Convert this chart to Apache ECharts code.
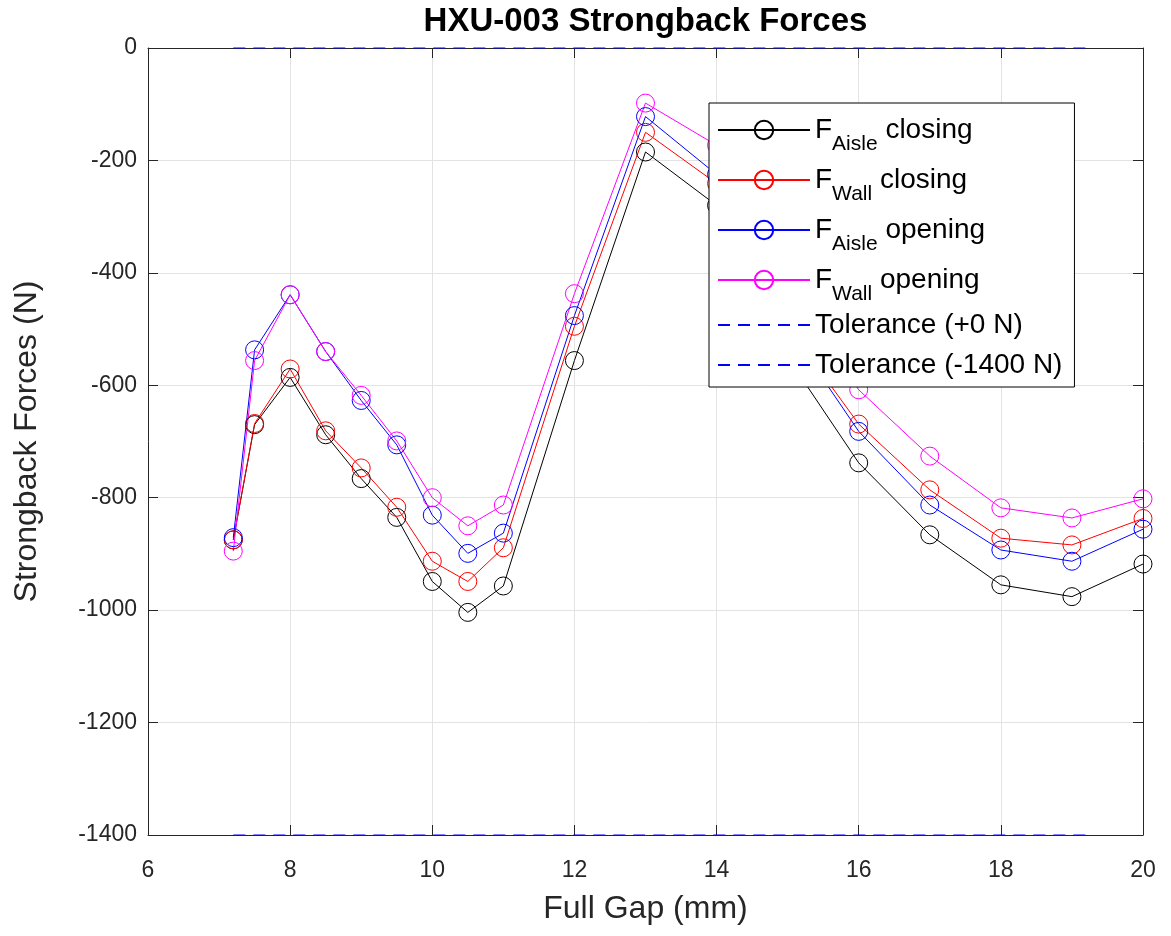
<!DOCTYPE html>
<html><head><meta charset="utf-8">
<script src="https://cdn.jsdelivr.net/npm/echarts@6/dist/echarts.min.js"></script>
<style>html,body{margin:0;padding:0;background:#fff}#c{width:1171px;height:936px}</style>
</head><body><div id="c"></div>
<script>
// ---- data ----
const gap = [7.2, 7.5, 8, 8.5, 9, 9.5, 10, 10.5, 11, 12, 13, 14, 15, 16, 17, 18, 19, 20];
const aisleClosing = [-875, -670, -586, -688, -766, -835, -949, -1004, -957, -556, -185, -280, -550, -738, -866, -955, -976, -918];
const wallClosing  = [-875, -668, -571, -681, -747, -817, -913, -949, -889, -495, -150, -241, -495, -669, -786, -872, -884, -837];
const aisleOpening = [-871, -537, -439, -540, -627, -706, -831, -899, -863, -476, -122, -225, -496, -682, -813, -893, -913, -856];
const wallOpening  = [-895, -556, -439, -540, -618, -699, -800, -850, -813, -437, -98, -173, -430, -608, -726, -818, -836, -802];
const toleranceGap = [7.2, 19.2];
const toleranceHigh = [0, 0];
const toleranceLow = [-1400, -1400];
const xTickValues = [6, 8, 10, 12, 14, 16, 18, 20];
const yTickValues = [0, -200, -400, -600, -800, -1000, -1200, -1400];

const FONT = 'Liberation Sans, Arial, Helvetica, sans-serif';
const AX = '#262626';
const pairs = (xs, ys) => xs.map((x, i) => [x, ys[i]]);

const xMin = Math.min(...xTickValues), xMax = Math.max(...xTickValues), xStep = xTickValues[1] - xTickValues[0];
const yMin = Math.min(...yTickValues), yMax = Math.max(...yTickValues), yStep = Math.abs(yTickValues[1] - yTickValues[0]);

function markerSeries(name, ys, color) {
  return {
    name, type: 'line', data: pairs(gap, ys), xAxisIndex: 0, yAxisIndex: 0,
    symbol: 'circle', symbolSize: 18,
    lineStyle: { color, width: 1 },
    itemStyle: { color: 'rgba(255,255,255,0)', borderColor: color, borderWidth: 1 },
    emphasis: { disabled: true }, animation: false
  };
}
function tolSeries(name, ys) {
  return {
    name, type: 'line', data: pairs(toleranceGap, ys), xAxisIndex: 0, yAxisIndex: 0,
    symbol: 'circle', showSymbol: false, clip: false,
    lineStyle: { color: '#0000ff', width: 1.2, type: [12, 8] },
    itemStyle: { color: 'rgba(255,255,255,0)', borderColor: 'rgba(255,255,255,0)', borderWidth: 0 },
    emphasis: { disabled: true }, animation: false
  };
}

const labels = {
  'aisleClosing': '{m|F}{s|Aisle}{m| closing}',
  'wallClosing': '{m|F}{s|Wall}{m| closing}',
  'aisleOpening': '{m|F}{s|Aisle}{m| opening}',
  'wallOpening': '{m|F}{s|Wall}{m| opening}',
  'tolHigh': '{t|Tolerance (+0 N)}',
  'tolLow': '{t|Tolerance (-1400 N)}'
};

const chart = echarts.init(document.getElementById('c'), null, { renderer: 'canvas' });
const axisCommon = {
  axisLine: { show: true, onZero: false, lineStyle: { color: AX, width: 1 } },
  axisTick: { show: true, inside: true, length: 10, lineStyle: { color: AX, width: 1 } },
};
const CLEAR = 'rgba(255,255,255,0)';
chart.setOption({
  animation: false,
  backgroundColor: '#fff',
  title: {
    text: 'HXU-003 Strongback Forces',
    left: 645.5, top: 5, padding: 0, textAlign: 'center',
    textStyle: { fontFamily: FONT, fontSize: 33, fontWeight: 'bold', color: '#000' }
  },
  grid: { left: 148, right: 28, top: 48, bottom: 101, containLabel: false },
  xAxis: [
    Object.assign({
      type: 'value', min: xMin, max: xMax, interval: xStep, position: 'bottom',
      name: 'Full Gap (mm)', nameLocation: 'middle', nameGap: 58,
      nameTextStyle: { fontFamily: FONT, fontSize: 32, color: AX },
      axisLabel: { fontFamily: FONT, fontSize: 23, color: AX, margin: 24, formatter: v => String(v) },
      splitLine: { show: true, lineStyle: { color: '#e3e3e3', width: 1 } }
    }, axisCommon),
    Object.assign({
      type: 'value', min: xMin, max: xMax, interval: xStep, position: 'top',
      axisLabel: { show: false }, splitLine: { show: false }
    }, axisCommon)
  ],
  yAxis: [
    Object.assign({
      type: 'value', min: yMin, max: yMax, interval: yStep, position: 'left',
      name: 'Strongback Forces (N)', nameLocation: 'middle', nameGap: 105,
      nameTextStyle: { fontFamily: FONT, fontSize: 32, color: AX },
      axisLabel: { fontFamily: FONT, fontSize: 23, color: AX, margin: 11, formatter: v => String(v) },
      splitLine: { show: true, lineStyle: { color: '#e3e3e3', width: 1 } }
    }, axisCommon),
    Object.assign({
      type: 'value', min: yMin, max: yMax, interval: yStep, position: 'right',
      axisLabel: { show: false }, splitLine: { show: false }
    }, axisCommon)
  ],
  legend: {
    orient: 'vertical', left: 709, top: 103,
    padding: [2, 12, 2, 8], itemGap: 0,
    itemWidth: 92, itemHeight: 23,
    backgroundColor: '#fff', borderColor: '#000', borderWidth: 1,
    selectedMode: false,
    data: ['aisleClosing', 'wallClosing', 'aisleOpening', 'wallOpening', 'tolHigh', 'tolLow'],
    formatter: name => labels[name],
    textStyle: {
      fontFamily: FONT, fontSize: 28, color: '#000',
      rich: {
        m: { fontFamily: FONT, fontSize: 28, height: 50, lineHeight: 50, verticalAlign: 'middle', color: '#000', backgroundColor: CLEAR },
        s: { fontFamily: FONT, fontSize: 21, lineHeight: 22, verticalAlign: 'bottom', color: '#000' },
        t: { fontFamily: FONT, fontSize: 28, height: 40, lineHeight: 40, verticalAlign: 'middle', color: '#000', backgroundColor: CLEAR }
      }
    }
  },
  series: [
    markerSeries('aisleClosing', aisleClosing, '#000000'),
    markerSeries('wallClosing', wallClosing, '#ff0000'),
    markerSeries('aisleOpening', aisleOpening, '#0000ff'),
    markerSeries('wallOpening', wallOpening, '#ff00ff'),
    tolSeries('tolHigh', toleranceHigh),
    tolSeries('tolLow', toleranceLow)
  ]
});
</script>
</body></html>
